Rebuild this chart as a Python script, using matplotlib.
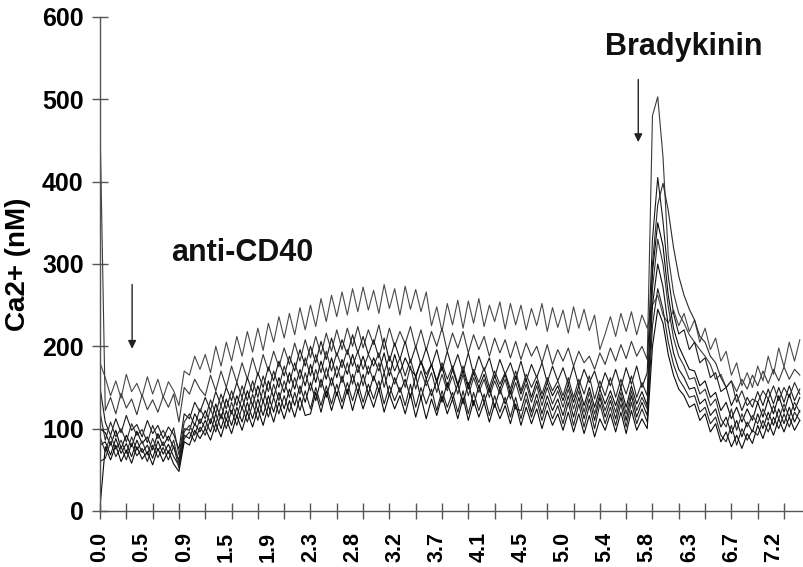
import numpy as np
import matplotlib
matplotlib.use("Agg")
import matplotlib.pyplot as plt


# %% Section 1: Ca2+ traces (nM), one value per sample

trace_1 = [180,
           162, 140, 158, 137, 166, 145, 155, 139, 163, 142, 160, 138, 157, 146,
           128, 170, 165, 188, 172,
           190, 168, 200, 176, 205, 182, 212, 188, 218, 193,
           222, 195, 228, 205, 236, 210, 240, 214, 247, 220,
           250, 224, 258, 230, 262, 236, 266, 238, 270, 242,
           272, 244, 268, 240, 275, 246, 270, 238, 273, 245,
           269, 242, 266, 225, 248, 218, 252, 226, 256, 222,
           255, 228, 258, 224, 250, 230, 254, 221, 252, 226,
           250, 220, 246, 225, 252, 218, 247, 223, 244, 216,
           248, 222, 245, 219, 238, 196, 215, 236, 212, 240,
           218, 242, 214, 238, 222,
           250, 262, 238, 228, 244, 225, 240, 218, 232, 205,
           222, 196, 210, 182, 194, 165, 180, 152, 168, 150,
           176, 158, 188, 166, 198, 175, 205, 182, 208]

trace_2 = [470,
           122, 138, 118, 143, 125, 136, 117, 141, 123, 135, 120, 139, 126, 142,
           108, 150, 142, 160, 148,
           140, 165, 146, 170, 150, 176, 156, 180, 160,
           186, 164, 190, 170, 194, 175, 198, 178, 204, 182,
           208, 186, 212, 190, 216, 194, 220, 196, 222, 200,
           224, 198, 220, 202, 226, 196, 222, 200, 218, 203,
           224, 198, 220, 195, 218, 200, 222, 194, 216, 198,
           218, 192, 214, 196, 212, 188, 210, 192, 208, 186,
           206, 184, 204, 188, 200, 180, 202, 178, 196, 182,
           198, 176, 194, 180, 188, 172, 192, 178, 198, 182,
           202, 185, 206, 188, 200, 184,
           480, 503, 430, 310, 265, 240, 228, 214, 205, 196,
           188, 178, 160, 166, 150, 158, 145, 160, 148, 165,
           152, 170, 155, 172, 158, 175, 160, 172, 165]

trace_3 = [150,
           108, 92, 112, 95, 116, 98, 105, 90, 110, 94, 104, 88, 102, 93,
           75, 118, 112, 132, 120,
           138, 122, 145, 128, 150, 134, 156, 138, 162, 144,
           168, 150, 175, 158, 182, 164, 188, 170, 196, 176,
           200, 180, 206, 184, 210, 188, 208, 190, 214, 192,
           212, 190, 208, 186, 210, 182, 204, 184, 206, 180,
           200, 178, 198, 176, 196, 170, 194, 172, 190, 168,
           192, 166, 188, 170, 186, 162, 184, 166, 180, 160,
           182, 158, 178, 162, 180, 156, 176, 158, 174, 154,
           176, 152, 172, 156, 170, 148, 168, 152, 172, 150,
           174, 154, 176, 150, 168,
           330, 405, 352, 285, 240, 215, 220, 196, 205, 180,
           186, 162, 168, 145, 150, 128, 142, 122, 138, 126,
           145, 128, 148, 130, 150, 132, 152, 134, 148]

trace_4 = [120,
           86, 108, 90, 100, 84, 106, 92, 99, 83, 104, 88, 98, 85, 101,
           68, 108, 118, 104, 124,
           112, 135, 118, 142, 124, 146, 128, 152, 134,
           158, 138, 164, 145, 170, 150, 176, 155, 180, 160,
           186, 164, 190, 168, 194, 170, 192, 174, 196, 176,
           194, 172, 190, 176, 192, 168, 188, 170, 186, 164,
           184, 162, 182, 166, 178, 158, 180, 160, 176, 154,
           176, 152, 172, 156, 174, 150, 170, 154, 168, 148,
           170, 146, 166, 150, 164, 142, 162, 146, 158, 140,
           162, 138, 160, 142, 164, 136, 158, 140, 162, 138,
           160, 142, 164, 138, 156, 140,
           300, 372, 398, 365, 320, 285, 262, 245, 232, 212,
           205, 188, 180, 162, 150, 158, 132, 146, 128, 136,
           132, 146, 136, 152, 134, 150, 138, 156, 142]

trace_5 = [100,
           95, 80, 98, 76, 92, 78, 97, 82, 90, 74, 94, 79, 91, 77,
           62, 100, 98, 118, 106,
           122, 106, 130, 112, 136, 118, 140, 124, 146, 128,
           152, 132, 158, 138, 162, 144, 168, 148, 172, 152,
           178, 156, 182, 160, 186, 162, 184, 166, 190, 168,
           188, 166, 186, 170, 192, 164, 190, 168, 186, 172,
           164, 182, 160, 178, 156, 176, 150, 172, 152, 170,
           148, 168, 150, 166, 144, 164, 148, 166, 142, 164,
           142, 160, 138, 158, 136, 156, 140, 152, 134, 154,
           132, 152, 128, 150, 126, 148, 130, 146, 128, 150,
           126, 152, 130, 145, 128,
           290, 350, 322, 262, 222, 200, 186, 172, 170, 152,
           158, 138, 144, 122, 132, 112, 126, 108, 124, 110,
           132, 114, 136, 118, 140, 120, 142, 122, 138]

trace_6 = [90,
           72, 92, 75, 86, 70, 90, 74, 85, 68, 88, 73, 84, 70, 86,
           58, 96, 104, 92, 112,
           100, 124, 106, 128, 110, 132, 114, 138, 118,
           142, 122, 148, 128, 154, 134, 158, 138, 162, 142,
           168, 146, 172, 150, 174, 152, 176, 156, 180, 154,
           178, 152, 176, 158, 180, 150, 174, 154, 172, 150,
           176, 148, 170, 152, 168, 144, 166, 146, 164, 142,
           166, 140, 162, 144, 160, 138, 158, 142, 160, 136,
           156, 134, 154, 132, 152, 128, 150, 130, 146, 126,
           148, 124, 146, 120, 144, 118, 142, 122, 140, 120,
           144, 118, 146, 122, 138, 124,
           270, 330, 300, 248, 210, 188, 176, 160, 162, 142,
           148, 128, 136, 112, 102, 124, 98, 118, 102, 116,
           106, 124, 110, 128, 112, 130, 114, 132, 120]

trace_7 = [80,
           84, 68, 88, 70, 82, 66, 86, 71, 80, 64, 85, 69, 81, 66,
           55, 92, 88, 106, 96,
           110, 96, 118, 100, 122, 104, 126, 108, 132, 112,
           136, 116, 140, 120, 144, 124, 148, 128, 152, 132,
           156, 134, 160, 138, 162, 140, 164, 142, 166, 144,
           166, 142, 164, 146, 168, 140, 162, 144, 160, 138,
           164, 136, 160, 140, 158, 132, 156, 136, 154, 130,
           156, 128, 152, 132, 150, 126, 148, 130, 146, 124,
           122, 144, 120, 142, 118, 140, 122, 136, 116, 140,
           114, 138, 112, 136, 110, 138, 114, 134, 112, 138,
           110, 140, 114, 132, 116,
           250, 300, 272, 225, 192, 172, 162, 148, 150, 130,
           136, 116, 124, 102, 114, 94, 110, 90, 108, 96,
           118, 100, 120, 104, 124, 106, 126, 108, 122]

trace_8 = [60,
           64, 84, 66, 78, 62, 82, 67, 76, 60, 80, 65, 77, 62, 79,
           52, 88, 96, 84, 102,
           92, 112, 96, 118, 100, 122, 104, 126, 108,
           130, 110, 134, 114, 138, 118, 140, 120, 144, 122,
           146, 124, 150, 128, 152, 130, 154, 132, 156, 134,
           156, 132, 154, 136, 158, 130, 152, 134, 150, 128,
           154, 126, 150, 130, 148, 122, 146, 126, 144, 120,
           146, 118, 144, 122, 142, 116, 140, 120, 138, 114,
           138, 112, 136, 114, 134, 110, 132, 112, 128, 106,
           132, 104, 130, 102, 128, 100, 130, 106, 126, 104,
           130, 102, 132, 106, 124, 108,
           225, 270, 245, 205, 178, 160, 150, 138, 140, 120,
           126, 106, 114, 92, 84, 104, 80, 100, 86, 98,
           92, 110, 96, 114, 100, 118, 102, 120, 110]

trace_9 = [5,
           78, 62, 80, 60, 74, 58, 78, 63, 72, 56, 76, 60, 73, 57,
           48, 84, 80, 98, 88,
           100, 86, 106, 90, 112, 94, 116, 98, 120, 102,
           124, 104, 128, 108, 132, 112, 134, 114, 138, 116,
           118, 144, 120, 146, 122, 144, 124, 148, 122, 146,
           124, 144, 126, 148, 120, 142, 124, 140, 118, 142,
           114, 138, 112, 136, 116, 140, 118, 136, 112, 138,
           110, 134, 114, 132, 108, 130, 112, 128, 106, 130,
           104, 126, 106, 124, 100, 122, 104, 118, 98, 120,
           96, 118, 94, 116, 90, 112, 98, 118, 96, 120,
           94, 122, 98, 112, 100,
           200, 245, 228, 190, 165, 148, 140, 126, 130, 110,
           118, 96, 106, 84, 96, 78, 92, 76, 94, 82,
           104, 88, 108, 92, 112, 96, 114, 98, 110]

traces = [trace_1, trace_2, trace_3, trace_4, trace_5,
          trace_6, trace_7, trace_8, trace_9]
trace_colors = ["#4a4a4a", "#3a3a3a", "#1a1a1a", "#2a2a2a", "#0a0a0a",
                "#303030", "#111111", "#222222", "#0a0a0a"]

# Time axis labels (min) and the sample index each one sits at
time_labels = ["0.0", "0.5", "0.9", "1.5", "1.9", "2.3", "2.8", "3.2", "3.7",
               "4.1", "4.5", "5.0", "5.4", "5.8", "6.3", "6.7", "7.2"]
time_label_idx = [0, 8, 16, 24, 32, 40, 48, 56, 64,
                  72, 80, 88, 96, 104, 112, 120, 128]

# Stimulus markers: sample index, arrow top, arrow tip, text position
stimuli = ["anti-CD40", "Bradykinin"]
stim_idx = [6.1, 102.3]
stim_arrow_top = [275, 524]
stim_arrow_tip = [197, 448]
stim_text_x = [27, 111]
stim_text_y = [313, 563]


# %% Section 2: Plot

plt.rcParams["font.family"] = ["Liberation Sans", "DejaVu Sans"]

fig = plt.figure(figsize=(8.04, 5.67), dpi=100)
ax = fig.add_axes([0.1244, 0.0988, 0.8756, 0.8713])

for tr, col in zip(traces, trace_colors):
    ax.plot(np.arange(len(tr)), tr, color=col, linewidth=0.8)

ax.set_xlim(0, 133.8)
ax.set_ylim(0, 600)

for sp in ["top", "right"]:
    ax.spines[sp].set_visible(False)
for sp in ["left", "bottom"]:
    ax.spines[sp].set_color("#555555")
    ax.spines[sp].set_linewidth(1.0)

# y axis
ax.set_yticks(np.arange(0, 601, 100))
ax.tick_params(axis="y", direction="inout", length=11.5, width=1,
               color="#555555", pad=6, labelsize=18)
for lab in ax.get_yticklabels():
    lab.set_fontweight("bold")
ax.set_ylabel("Ca2+ (nM)", fontsize=20, fontweight="bold", labelpad=8)

# x axis: tick marks every 5 samples, labels at their own positions
ax.xaxis.remove_overlapping_locs = False
ax.set_xticks(np.arange(0, 134, 5), minor=True)
ax.tick_params(axis="x", which="minor", direction="inout", length=11,
               width=1, color="#555555")
ax.set_xticks(time_label_idx)
ax.set_xticklabels(time_labels, rotation=90, fontsize=15.5, fontweight="bold")
ax.tick_params(axis="x", which="major", length=0, pad=15)

# Stimulus arrows and labels
for name, xi, top, tip, tx, ty in zip(stimuli, stim_idx, stim_arrow_top,
                                      stim_arrow_tip, stim_text_x, stim_text_y):
    ax.annotate("", xy=(xi, tip), xytext=(xi, top),
                arrowprops=dict(arrowstyle="-|>", color="#222222", lw=1.0,
                                mutation_scale=12, shrinkA=0, shrinkB=0))
    ax.text(tx, ty, name, ha="center", va="center", fontsize=22,
            fontweight="bold", color="#111111")

fig.savefig("out.png", dpi=100)
